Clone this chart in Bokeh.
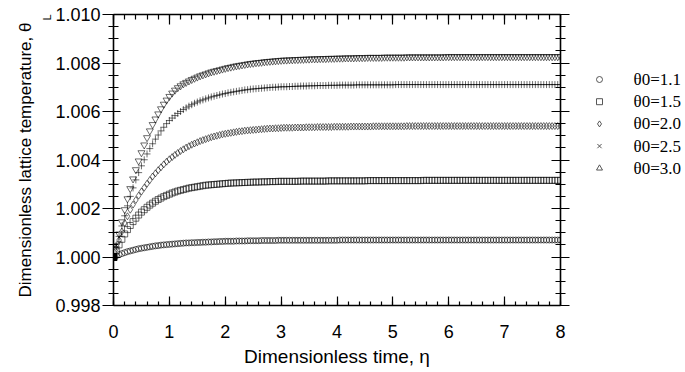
from bokeh.plotting import figure
from bokeh.layouts import row
from bokeh.models import (LinearAxis, SingleIntervalTicker, PrintfTickFormatter,
                          CustomJSTickFormatter, Title, Range1d, ColumnDataSource)
from bokeh.core.properties import value
from bokeh.embed import file_html
from bokeh.resources import INLINE

# ---------------- data ----------------
eta = [i / 20 for i in range(161)]  # dimensionless time 0.00 .. 8.00, step 0.05

theta_1_1 = ([1.00000, 1.00005, 1.00010, 1.00014, 1.00018, 1.00022, 1.00025, 1.00028, 1.00031, 1.00034,
              1.00036, 1.00038, 1.00040, 1.00042, 1.00044, 1.00046, 1.00047, 1.00049, 1.00050, 1.00051,
              1.00052, 1.00053, 1.00054, 1.00055, 1.00056, 1.00057, 1.00058, 1.00058, 1.00059, 1.00059,
              1.00060, 1.00060, 1.00061, 1.00061, 1.00062, 1.00062, 1.00063, 1.00063, 1.00064, 1.00064,
              1.00065, 1.00065, 1.00065, 1.00065, 1.00066, 1.00066, 1.00066, 1.00066, 1.00067, 1.00067,
              1.00067, 1.00067, 1.00067, 1.00068, 1.00068, 1.00068, 1.00068, 1.00068, 1.00068, 1.00069,
              1.00069]
             + [1.00069] * 20 + [1.00070] * 80)

theta_1_5 = ([1.00000, 1.00026, 1.00050, 1.00073, 1.00095, 1.00113, 1.00130, 1.00146, 1.00160, 1.00173,
              1.00185, 1.00195, 1.00205, 1.00214, 1.00222, 1.00230, 1.00237, 1.00243, 1.00249, 1.00254,
              1.00259, 1.00264, 1.00268, 1.00272, 1.00275, 1.00278, 1.00281, 1.00284, 1.00286, 1.00288,
              1.00290, 1.00292, 1.00294, 1.00296, 1.00297, 1.00298, 1.00299, 1.00300, 1.00301, 1.00302,
              1.00303, 1.00304, 1.00305, 1.00305, 1.00306, 1.00306, 1.00307, 1.00307, 1.00308, 1.00308,
              1.00309, 1.00309, 1.00309, 1.00310, 1.00310, 1.00310, 1.00311, 1.00311, 1.00311, 1.00312,
              1.00312]
             + [1.00312] * 6 + [1.00313] * 10 + [1.00314] * 14 + [1.00315] * 20 + [1.00316] * 50)

theta_2_0 = ([1.00000, 1.00035, 1.00070, 1.00105, 1.00140, 1.00168, 1.00195, 1.00216, 1.00235, 1.00253,
              1.00270, 1.00286, 1.00302, 1.00317, 1.00332, 1.00345, 1.00358, 1.00370, 1.00382, 1.00393,
              1.00403, 1.00412, 1.00421, 1.00429, 1.00437, 1.00444, 1.00451, 1.00457, 1.00463, 1.00468,
              1.00473, 1.00478, 1.00482, 1.00486, 1.00490, 1.00494, 1.00497, 1.00500, 1.00503, 1.00506,
              1.00508, 1.00510, 1.00512, 1.00514, 1.00516, 1.00518, 1.00519, 1.00521, 1.00522, 1.00523,
              1.00524, 1.00525, 1.00526, 1.00527, 1.00528, 1.00529, 1.00530, 1.00530, 1.00531, 1.00531,
              1.00532]
             + [1.00533] * 4 + [1.00534] * 4 + [1.00535] * 4 + [1.00536] * 6 + [1.00537] * 6
             + [1.00538] * 8 + [1.00539] * 12 + [1.00540] * 56)

theta_2_5 = ([1.00000, 1.00042, 1.00085, 1.00128, 1.00170, 1.00211, 1.00250, 1.00285, 1.00318, 1.00348,
              1.00376, 1.00401, 1.00425, 1.00447, 1.00467, 1.00486, 1.00503, 1.00520, 1.00535, 1.00550,
              1.00563, 1.00573, 1.00583, 1.00592, 1.00600, 1.00608, 1.00615, 1.00622, 1.00628, 1.00634,
              1.00639, 1.00644, 1.00648, 1.00652, 1.00656, 1.00660, 1.00663, 1.00666, 1.00669, 1.00672,
              1.00674, 1.00677, 1.00679, 1.00681, 1.00683, 1.00685, 1.00687, 1.00689, 1.00690, 1.00692,
              1.00693, 1.00694, 1.00695, 1.00696, 1.00697, 1.00698, 1.00699, 1.00700, 1.00700, 1.00701,
              1.00702]
             + [1.00702] * 2 + [1.00703] * 2 + [1.00704] * 2 + [1.00705] * 3 + [1.00706] * 3
             + [1.00707] * 4 + [1.00708] * 4 + [1.00709] * 6 + [1.00710] * 14 + [1.00711] * 60)

theta_3_0 = ([1.00000, 1.00047, 1.00095, 1.00145, 1.00195, 1.00240, 1.00282, 1.00322, 1.00360, 1.00396,
              1.00430, 1.00462, 1.00492, 1.00520, 1.00546, 1.00569, 1.00590, 1.00611, 1.00630, 1.00647,
              1.00662, 1.00676, 1.00688, 1.00698, 1.00706, 1.00714, 1.00720, 1.00726, 1.00732, 1.00737,
              1.00742, 1.00747, 1.00751, 1.00755, 1.00759, 1.00763, 1.00766, 1.00769, 1.00772, 1.00775,
              1.00778, 1.00781, 1.00783, 1.00786, 1.00788, 1.00790, 1.00792, 1.00794, 1.00796, 1.00798,
              1.00799, 1.00801, 1.00802, 1.00803, 1.00805, 1.00806, 1.00807, 1.00808, 1.00809, 1.00810,
              1.00811]
             + [1.00812] * 2 + [1.00813] * 2 + [1.00814] * 2 + [1.00815] * 2 + [1.00816] * 2
             + [1.00817] * 3 + [1.00818] * 3 + [1.00819] * 3 + [1.00820] * 3 + [1.00821] * 4
             + [1.00822] * 4 + [1.00823] * 6 + [1.00824] * 8 + [1.00825] * 14 + [1.00826] * 42)

series_labels = ["\u03b80=1.1", "\u03b80=1.5", "\u03b80=2.0", "\u03b80=2.5", "\u03b80=3.0"]
x_ticks = [0, 1, 2, 3, 4, 5, 6, 7, 8]
y_ticks = [0.998, 1.000, 1.002, 1.004, 1.006, 1.008, 1.010]

# ---------------- main figure ----------------
SANS = "Liberation Sans"
SERIF = "Liberation Serif"
MAIN_W = 570
LEG_W = 685 - MAIN_W
H = 372
FRAME_TOP, FRAME_BOTTOM = 14, 305

p = figure(width=MAIN_W, height=H, output_backend="svg", toolbar_location=None,
           x_range=Range1d(x_ticks[0], x_ticks[-1]), y_range=Range1d(y_ticks[0], y_ticks[-1]),
           min_border_left=113, min_border_right=10, min_border_top=FRAME_TOP,
           min_border_bottom=H - FRAME_BOTTOM,
           x_axis_type=None, y_axis_type=None)
p.outline_line_color = None
p.xgrid.visible = False
p.ygrid.visible = False
p.background_fill_color = "white"
p.border_fill_color = "white"

AX_W = 1.6
TK_W = 1.2

def style(ax):
    ax.axis_line_width = AX_W
    ax.axis_line_color = "black"
    ax.major_tick_line_width = TK_W
    ax.minor_tick_line_width = TK_W
    ax.major_tick_line_color = "black"
    ax.minor_tick_line_color = "black"
    ax.major_label_text_font = SANS
    ax.major_label_text_font_size = "18px"
    ax.major_label_text_color = "black"
    ax.axis_label_text_font = SANS
    ax.axis_label_text_font_size = "19px"
    ax.axis_label_text_font_style = "normal"
    ax.axis_label_text_color = "black"

blank = CustomJSTickFormatter(code="return ''")

# bottom axis
xb = LinearAxis(ticker=SingleIntervalTicker(interval=1, num_minor_ticks=5),
                axis_label="Dimensionless time, \u03b7")
style(xb)
xb.major_tick_in = 9; xb.major_tick_out = 0
xb.minor_tick_in = 4; xb.minor_tick_out = 0
xb.major_label_standoff = 19
xb.axis_label_standoff = 5
p.add_layout(xb, "below")

# top axis
xt = LinearAxis(ticker=SingleIntervalTicker(interval=1, num_minor_ticks=5), formatter=blank)
style(xt)
xt.major_tick_in = 10; xt.major_tick_out = 0
xt.minor_tick_in = 5; xt.minor_tick_out = 0
xt.major_label_standoff = 0
p.add_layout(xt, "above")

# left axis
yl = LinearAxis(ticker=SingleIntervalTicker(interval=0.002, num_minor_ticks=4),
                formatter=PrintfTickFormatter(format="%.3f"))
style(yl)
yl.major_tick_in = 7; yl.major_tick_out = 11
yl.minor_tick_in = 5; yl.minor_tick_out = 5
yl.major_label_standoff = 2
p.add_layout(yl, "left")

# y-axis title: subscript "L" (inner strip) and the main text (outer strip)
p.add_layout(Title(text="L", align="right", text_font=SANS, text_font_size="11px",
                   text_font_style="normal", text_color="black", standoff=0,
                   offset=0), "left")
p.add_layout(Title(text="Dimensionless lattice temperature, \u03b8", align="center",
                   text_font=SANS, text_font_size="17px", text_font_style="normal",
                   text_color="black", standoff=8), "left")

# right axis
yr = LinearAxis(ticker=SingleIntervalTicker(interval=0.002, num_minor_ticks=4), formatter=blank)
style(yr)
yr.major_tick_in = 9; yr.major_tick_out = 9
yr.minor_tick_in = 5; yr.minor_tick_out = 5
yr.major_label_standoff = 0
p.add_layout(yr, "right")

# ---------------- data series ----------------
curves = [theta_1_1, theta_1_5, theta_2_0, theta_2_5, theta_3_0]
plot_markers = ["circle", "square", "diamond", "cross", "inverted_triangle"]
plot_sizes = [6, 6, 7, 7, 7]
for vals, mk, sz in zip(curves, plot_markers, plot_sizes):
    p.scatter(x=eta, y=vals, marker=mk, size=sz, fill_color=None,
              line_color="black", line_alpha=0.72, line_width=0.8)

# filled starting point
p.scatter(x=[eta[0]], y=[theta_1_1[0]], marker="square", size=7,
          fill_color="black", line_color="black")

# ---------------- legend figure (screen-pixel coordinates, y down) ----------------
# frames in a row are aligned, so the legend frame spans FRAME_TOP..FRAME_BOTTOM
leg = figure(width=LEG_W, height=H, output_backend="svg", toolbar_location=None,
             x_range=Range1d(0, LEG_W), y_range=Range1d(FRAME_BOTTOM, FRAME_TOP),
             min_border=0, x_axis_type=None, y_axis_type=None)
leg.outline_line_color = None
leg.xgrid.visible = False
leg.ygrid.visible = False
leg.background_fill_color = "white"
leg.border_fill_color = "white"

legend_markers = ["circle", "square", "diamond", "x", "triangle"]
ROW0, ROW_STEP = 79, 22.2
MK_X, TX_X = 599 - MAIN_W, 633 - MAIN_W
src = ColumnDataSource(dict(
    mx=[MK_X] * len(series_labels),
    tx=[TX_X] * len(series_labels),
    y=[ROW0 + ROW_STEP * i for i in range(len(series_labels))],
    marker=legend_markers,
    label=series_labels,
))
leg.scatter(x="mx", y="y", marker="marker", size=6, source=src, fill_color=None,
            line_color="#444444", line_width=0.9)
leg.text(x="tx", y="y", text="label", source=src, text_font=value(SERIF),
         text_font_size="17px", text_baseline="middle", text_align="left", text_color="black")

layout = row(p, leg, spacing=0)
open("out.html", "w").write(file_html(layout, INLINE))
